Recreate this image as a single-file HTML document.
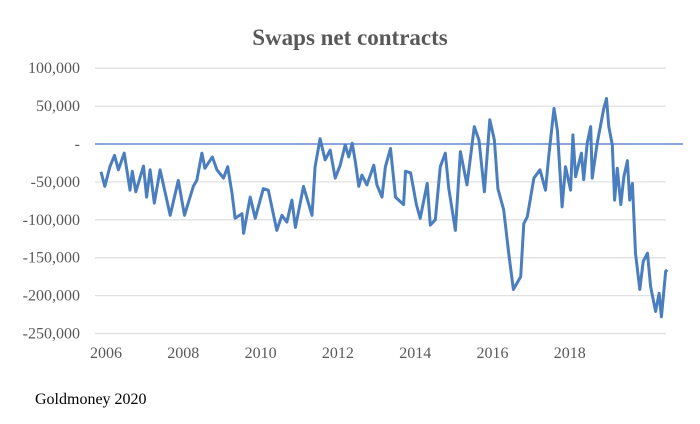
<!DOCTYPE html>
<html><head><meta charset="utf-8"><style>
body{margin:0;background:#fff;}
svg{display:block;font-family:"Liberation Serif",serif;}
</style></head><body>
<svg id="chart" width="700" height="424" viewBox="0 0 700 424">
<text x="350" y="45" text-anchor="middle" font-size="23" font-weight="bold" fill="#595959">Swaps net  contracts</text>
<g id="grid"></g><g id="ylabels"></g><g id="xlabels"></g><g id="series"></g>
<text x="35" y="404" font-size="16" fill="#000">Goldmoney 2020</text>
</svg>
<script>
const yTicks=[100000,50000,0,-50000,-100000,-150000,-200000,-250000];
const yTickLabels=["100,000","50,000","-","-50,000","-100,000","-150,000","-200,000","-250,000"];
const xTicks=[2006,2008,2010,2012,2014,2016,2018];
const dates=[2005.87,2005.97,2006.10,2006.22,2006.32,2006.47,2006.62,2006.68,2006.77,2006.97,2007.05,2007.14,2007.25,2007.40,2007.66,2007.87,2008.03,2008.26,2008.35,2008.48,2008.56,2008.75,2008.87,2009.04,2009.15,2009.26,2009.34,2009.52,2009.56,2009.73,2009.86,2010.07,2010.20,2010.42,2010.55,2010.68,2010.81,2010.90,2011.11,2011.33,2011.41,2011.54,2011.67,2011.80,2011.93,2012.06,2012.19,2012.28,2012.37,2012.45,2012.54,2012.62,2012.75,2012.93,2013.01,2013.14,2013.23,2013.36,2013.49,2013.70,2013.75,2013.88,2014.03,2014.13,2014.31,2014.39,2014.52,2014.65,2014.78,2014.87,2015.04,2015.17,2015.34,2015.43,2015.53,2015.65,2015.79,2015.93,2016.05,2016.14,2016.29,2016.42,2016.54,2016.73,2016.81,2016.90,2017.07,2017.23,2017.37,2017.46,2017.59,2017.68,2017.80,2017.89,2018.02,2018.08,2018.15,2018.30,2018.36,2018.45,2018.54,2018.58,2018.71,2018.88,2018.95,2019.01,2019.10,2019.16,2019.23,2019.32,2019.40,2019.49,2019.55,2019.62,2019.70,2019.81,2019.90,2020.01,2020.09,2020.22,2020.31,2020.37,2020.48,2020.52];
const swapsNet=[-36500,-56000,-30000,-15000,-34000,-12000,-61000,-36000,-63000,-29000,-70000,-34000,-78000,-34000,-94000,-48000,-94000,-56000,-48000,-12000,-32000,-17000,-34000,-45000,-30000,-65000,-98000,-92000,-118000,-70000,-98000,-59000,-61000,-114000,-94000,-103000,-74000,-110000,-56000,-94000,-30000,7000,-21000,-8000,-45000,-28000,-1000,-17000,1000,-23000,-56000,-41000,-54000,-28000,-54000,-70000,-30000,-6000,-70000,-80000,-36000,-38000,-80000,-98000,-52000,-107000,-100000,-30000,-12000,-59000,-114000,-10000,-54000,-17000,23000,5000,-63000,32000,5000,-59000,-87000,-144000,-192000,-175000,-105000,-96000,-45000,-34000,-61000,-14000,47000,18000,-83000,-30000,-61000,12000,-43000,-12000,-47000,1000,23000,-45000,1000,47000,60000,23000,-1000,-74000,-32000,-80000,-43000,-22000,-74000,-52000,-144000,-192000,-155000,-144000,-188000,-221000,-197000,-228000,-168000,-166000];
const NS='http://www.w3.org/2000/svg';
const yScale=v=>144-(v/50000)*37.9;
const xScale=t=>106+(t-2006)*38.65;
function mk(tag,attrs,parent){const e=document.createElementNS(NS,tag);for(const k in attrs)e.setAttribute(k,attrs[k]);parent.appendChild(e);return e;}
const grid=document.getElementById('grid'),yl=document.getElementById('ylabels'),xl=document.getElementById('xlabels'),ser=document.getElementById('series');
yTicks.forEach((v,i)=>{
  const y=yScale(v);
  if(v!==0){const g=mk('line',{x1:95,x2:666,y1:y,y2:y,stroke:'#e0e0e0','stroke-width':1.3},grid);
  
  }
  const t=mk('text',{x:80,y:y+5,'text-anchor':'end','font-size':16,fill:'#595959'},yl);
  t.textContent=yTickLabels[i];
  
  
});
xTicks.forEach(v=>{
  const t=mk('text',{x:xScale(v),y:358,'text-anchor':'middle','font-size':16,fill:'#595959'},xl);
  t.textContent=String(v);
  
  
});
const zl=mk('line',{x1:95,x2:683,y1:yScale(0),y2:yScale(0),stroke:'#4472c4','stroke-width':1.3},ser);


const pts=dates.map((d,i)=>xScale(d).toFixed(1)+','+yScale(swapsNet[i]).toFixed(1)).join(' ');
const pl=mk('polyline',{points:pts,fill:'none',stroke:'#4a7ebf','stroke-width':3,'stroke-linejoin':'round'},ser);


</script>
</body></html>
